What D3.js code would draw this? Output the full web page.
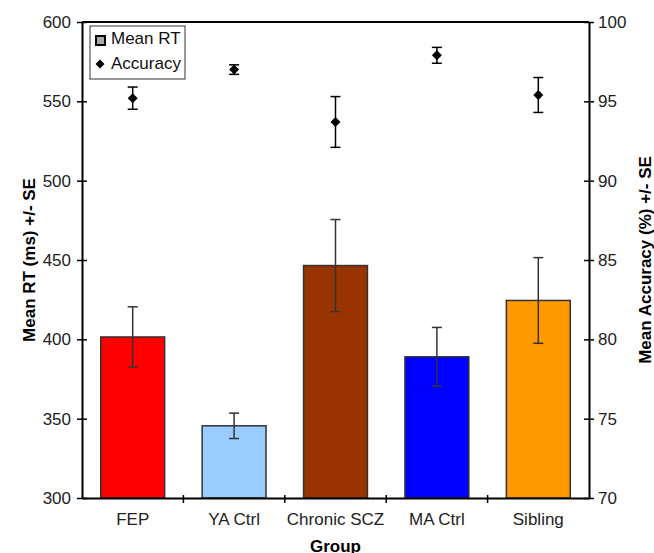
<!DOCTYPE html>
<html>
<head>
<meta charset="utf-8">
<script src="https://cdn.jsdelivr.net/npm/d3@7"></script>
<style>
  body { margin: 0; background: #fff; }
  text { font-family: "Liberation Sans", Arial, sans-serif; }
</style>
</head>
<body>
<svg width="654" height="553"></svg>
<script>
var groups = ["FEP", "YA Ctrl", "Chronic SCZ", "MA Ctrl", "Sibling"];
var colors = ["#ff0000", "#99ccff", "#993300", "#0000ff", "#ff9900"];
var rtMean = [401.5, 345.5, 446.5, 389, 424.5];
var rtSE = [19, 8, 29, 18.5, 27];
var accMean = [95.2, 97.0, 93.7, 97.9, 95.4];
var accSE = [0.7, 0.3, 1.6, 0.5, 1.1];
var rtTicks = [300, 350, 400, 450, 500, 550, 600];
var accTicks = [70, 75, 80, 85, 90, 95, 100];

var svg = d3.select("svg"),
    margin = {top: 22, right: 65, bottom: 55, left: 82},
    width = +svg.attr("width") - margin.left - margin.right,
    height = +svg.attr("height") - margin.top - margin.bottom;

var x = d3.scaleBand().domain(groups).range([0, width]).paddingInner(0.37).paddingOuter(0.185),
    xb = d3.scaleBand().domain(groups).range([0, width]),
    y = d3.scaleLinear().domain([300, 600]).range([height, 0]),
    y2 = d3.scaleLinear().domain([70, 100]).range([height, 0]);

var g = svg.append("g")
    .attr("transform", "translate(" + margin.left + "," + margin.top + ")");

// top border
g.append("line")
    .attr("x1", 0).attr("x2", width)
    .attr("stroke", "#000").attr("stroke-width", 2);

// bars
g.selectAll(".bar")
  .data(groups)
  .enter().append("rect")
    .attr("class", "bar")
    .attr("x", function(d) { return x(d); })
    .attr("y", function(d, i) { return y(rtMean[i]); })
    .attr("width", x.bandwidth())
    .attr("height", function(d, i) { return height - y(rtMean[i]); })
    .attr("fill", function(d, i) { return colors[i]; })
    .attr("stroke", "#333")
    .attr("stroke-width", 1.5);

function errorBars(cls, means, se, scale, color, cap) {
  var eb = g.selectAll("." + cls)
    .data(groups)
    .enter().append("g")
      .attr("class", cls)
      .attr("stroke", color)
      .attr("stroke-width", 1.5)
      .attr("transform", function(d) { return "translate(" + (x(d) + x.bandwidth() / 2) + ",0)"; });
  eb.append("line")
    .attr("y1", function(d, i) { return scale(means[i] + se[i]); })
    .attr("y2", function(d, i) { return scale(means[i] - se[i]); });
  eb.append("line")
    .attr("x1", -cap).attr("x2", cap)
    .attr("y1", function(d, i) { return scale(means[i] + se[i]); })
    .attr("y2", function(d, i) { return scale(means[i] + se[i]); });
  eb.append("line")
    .attr("x1", -cap).attr("x2", cap)
    .attr("y1", function(d, i) { return scale(means[i] - se[i]); })
    .attr("y2", function(d, i) { return scale(means[i] - se[i]); });
}

errorBars("rt-err", rtMean, rtSE, y, "#333", 5);
errorBars("acc-err", accMean, accSE, y2, "#000", 5);

// diamonds = squares turned by 45 degrees
var diamond = d3.symbol().type(d3.symbolSquare).size(50);

g.selectAll(".acc")
  .data(groups)
  .enter().append("path")
    .attr("class", "acc")
    .attr("d", diamond)
    .attr("transform", function(d, i) {
      return "translate(" + (x(d) + x.bandwidth() / 2) + "," + y2(accMean[i]) + ") rotate(45)";
    })
    .attr("fill", "#000");

// axes
var xAxis = g.append("g")
    .attr("transform", "translate(0," + height + ")")
    .call(d3.axisBottom(xb).tickSize(0).tickPadding(15));
xAxis.select(".domain").attr("stroke-width", 2);
xAxis.selectAll(".tick text").attr("font-size", 17).attr("fill", "#222");
xAxis.selectAll(".sep")
  .data(groups.slice(1))
  .enter().append("line")
    .attr("class", "sep")
    .attr("x1", function(d) { return xb(d); })
    .attr("x2", function(d) { return xb(d); })
    .attr("y1", -3).attr("y2", 5)
    .attr("stroke", "#000").attr("stroke-width", 1.5);

var yAxis = g.append("g")
    .call(d3.axisLeft(y).tickValues(rtTicks).tickSizeInner(10).tickSizeOuter(0));
yAxis.select(".domain").attr("stroke-width", 2);
yAxis.selectAll(".tick line").attr("x2", 5).attr("x1", -5).attr("stroke-width", 1.5);
yAxis.selectAll(".tick text").attr("font-size", 17).attr("fill", "#222").attr("x", -11);

var yAxis2 = g.append("g")
    .attr("transform", "translate(" + width + ",0)")
    .call(d3.axisRight(y2).tickValues(accTicks).tickSizeInner(10).tickSizeOuter(0));
yAxis2.select(".domain").attr("stroke-width", 2);
yAxis2.selectAll(".tick line").attr("x1", -5).attr("x2", 5).attr("stroke-width", 1.5);
yAxis2.selectAll(".tick text").attr("font-size", 17).attr("fill", "#222").attr("x", 9);

// axis titles
svg.append("text")
    .attr("transform", "translate(35," + (margin.top + height / 2) + ") rotate(-90)")
    .attr("text-anchor", "middle")
    .attr("font-size", 17).attr("font-weight", "bold")
    .text("Mean RT (ms) +/- SE");

svg.append("text")
    .attr("transform", "translate(651," + (margin.top + height / 2) + ") rotate(-90)")
    .attr("text-anchor", "middle")
    .attr("font-size", 17).attr("font-weight", "bold")
    .text("Mean Accuracy (%) +/- SE");

svg.append("text")
    .attr("x", margin.left + width / 2)
    .attr("y", 552)
    .attr("text-anchor", "middle")
    .attr("font-size", 17).attr("font-weight", "bold")
    .text("Group");

// legend
var legend = svg.append("g").attr("transform", "translate(90,26)");
legend.append("rect")
    .attr("width", 95).attr("height", 53)
    .attr("fill", "#fff").attr("stroke", "#333").attr("stroke-width", 1);
legend.append("rect")
    .attr("x", 6).attr("y", 10).attr("width", 9).attr("height", 9)
    .attr("fill", "#aaa").attr("stroke", "#000").attr("stroke-width", 2);
legend.append("text")
    .attr("x", 21).attr("y", 18)
    .attr("font-size", 17).attr("fill", "#111")
    .text("Mean RT");
legend.append("path")
    .attr("d", d3.symbol().type(d3.symbolSquare).size(40))
    .attr("transform", "translate(10,38) rotate(45)")
    .attr("fill", "#000");
legend.append("text")
    .attr("x", 21).attr("y", 43)
    .attr("font-size", 17).attr("fill", "#111")
    .text("Accuracy");
</script>
</body>
</html>
